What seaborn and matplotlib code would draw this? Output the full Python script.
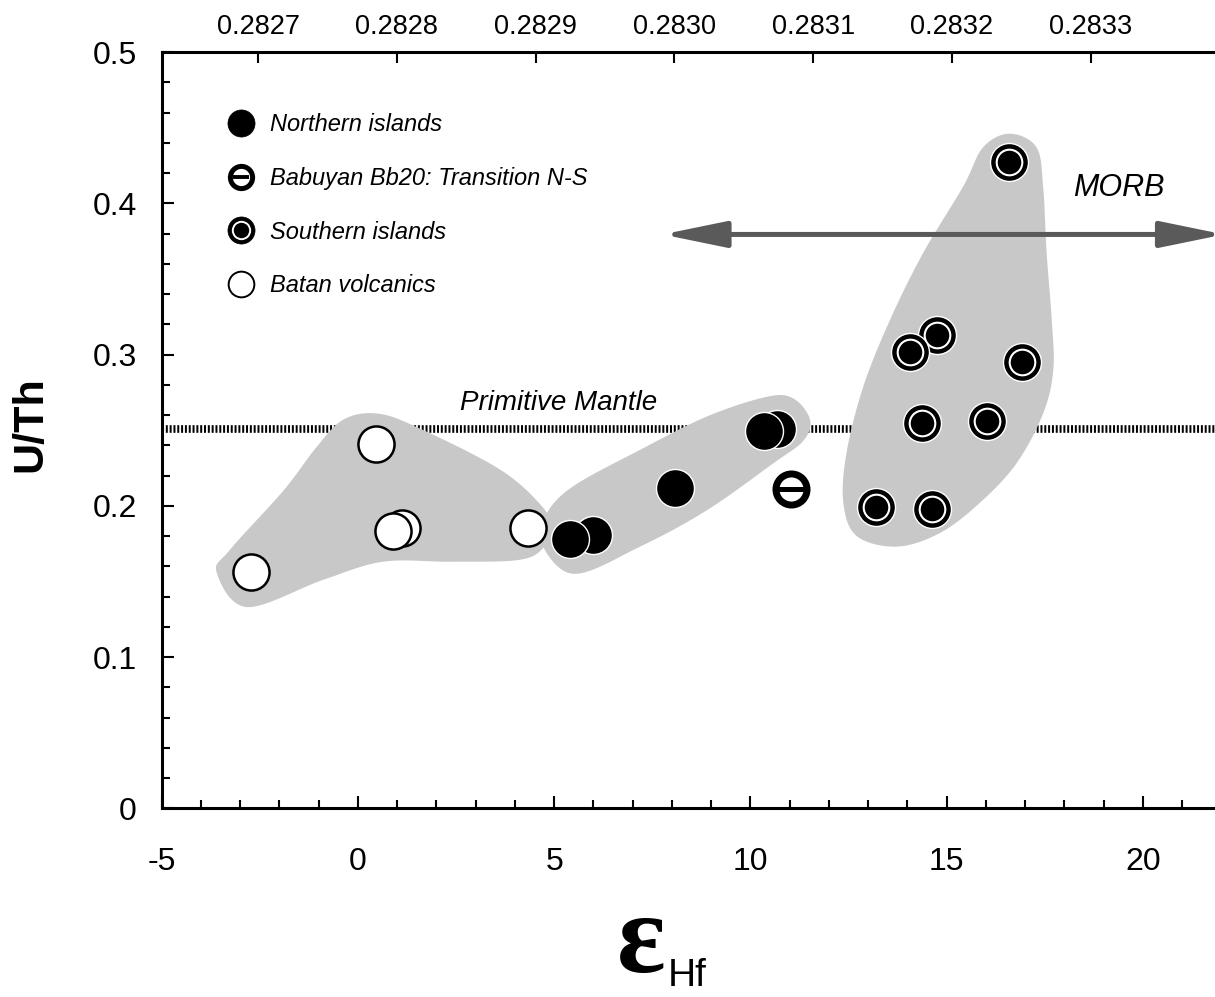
import numpy as np
import pandas as pd
import matplotlib.pyplot as plt
import seaborn as sns
from matplotlib.lines import Line2D
from matplotlib.patches import FancyArrowPatch
from matplotlib.ticker import MultipleLocator, FuncFormatter

sns.set_style('ticks')
plt.rcParams['font.family'] = ['Liberation Sans', 'DejaVu Sans']
plt.rcParams['axes.unicode_minus'] = False
for key in ['text.color', 'axes.labelcolor', 'xtick.color', 'ytick.color', 'axes.edgecolor']:
    plt.rcParams[key] = 'black'

# --- data (eHf, U/Th) ---
batan_ehf = [-2.72, 0.46, 1.13, 0.90, 4.34]
batan_uth = [0.156, 0.241, 0.185, 0.183, 0.185]

north_ehf = [5.99, 5.40, 8.08, 10.68, 10.35]
north_uth = [0.181, 0.178, 0.212, 0.251, 0.2496]

babuyan_ehf = [11.03]
babuyan_uth = [0.211]

south_ehf = [16.59, 14.76, 14.06, 16.91, 14.38, 16.03, 13.19, 14.63]
south_uth = [0.427, 0.313, 0.302, 0.295, 0.255, 0.256, 0.199, 0.198]

legend_labels = ['Northern islands', 'Babuyan Bb20: Transition N-S',
                 'Southern islands', 'Batan volcanics']

# top axis: 176Hf/177Hf
chur = 0.282772
ratio_ticks = [0.2827, 0.2828, 0.2829, 0.2830, 0.2831, 0.2832, 0.2833]

primitive_mantle = 0.251
morb_range = [7.76, 22.07]
morb_uth = 0.3794

# field outlines (eHf, U/Th)
field_batan_x = [-3.60, -2.83, -0.89, 0.64, 2.35, 4.04, 4.68, 4.89, 4.71, 3.62, 1.50, 0.48, -0.37, -1.05, -1.90, -3.26]
field_batan_y = [0.156, 0.133, 0.151, 0.163, 0.163, 0.164, 0.171, 0.186, 0.199, 0.224, 0.252, 0.261, 0.257, 0.239, 0.210, 0.171]
field_north_x = [4.64, 5.49, 7.19, 8.89, 10.58, 11.35, 11.52, 11.09, 10.41, 8.89, 7.19, 5.49, 4.81]
field_north_y = [0.177, 0.155, 0.173, 0.197, 0.228, 0.243, 0.257, 0.271, 0.272, 0.259, 0.237, 0.213, 0.195]
field_south_x = [16.61, 17.29, 17.46, 17.55, 17.68, 17.72, 17.46, 16.78, 15.85, 14.83, 13.73, 12.71, 12.37, 12.45, 12.88, 13.56, 14.40, 15.42, 15.93]
field_south_y = [0.446, 0.437, 0.411, 0.367, 0.323, 0.290, 0.261, 0.228, 0.202, 0.182, 0.173, 0.180, 0.202, 0.235, 0.279, 0.323, 0.367, 0.411, 0.437]


def smooth_closed(xs, ys, n=24):
    # periodic Catmull-Rom through the outline points
    pts = np.column_stack([xs, ys])
    m = len(pts)
    t = np.linspace(0, 1, n, endpoint=False)[:, None]
    out = []
    for i in range(m):
        p0, p1, p2, p3 = pts[i - 1], pts[i], pts[(i + 1) % m], pts[(i + 2) % m]
        out.append(0.5 * (2 * p1 + (-p0 + p2) * t + (2 * p0 - 5 * p1 + 4 * p2 - p3) * t ** 2
                          + (-p0 + 3 * p1 - 3 * p2 + p3) * t ** 3))
    out = np.vstack(out)
    return out[:, 0], out[:, 1]


fig = plt.figure(figsize=(12.15, 9.97), dpi=100)
ax = fig.add_axes([0.1331, 0.1893, 0.8669, 0.7585])

ax.axhline(primitive_mantle, color='black', lw=5.5, dashes=(0.26, 0.24), zorder=1)

for fx, fy in [(field_batan_x, field_batan_y), (field_north_x, field_north_y),
               (field_south_x, field_south_y)]:
    sx, sy = smooth_closed(fx, fy)
    ax.fill(sx, sy, color='#c8c8c8', lw=0, zorder=2)

sns.scatterplot(x=batan_ehf, y=batan_uth, s=676, color='white', edgecolor='black',
                linewidth=1.8, zorder=4, ax=ax, legend=False)
sns.scatterplot(x=north_ehf, y=north_uth, s=748, color='black', edgecolor='white',
                linewidth=1.0, zorder=4, ax=ax, legend=False)
sns.scatterplot(x=babuyan_ehf, y=babuyan_uth, s=500, color='white', edgecolor='black',
                linewidth=5, zorder=4, ax=ax, legend=False)
ax.plot(babuyan_ehf, babuyan_uth, ls='none', marker='_', ms=19, mew=3.6, color='black', zorder=4)
for x, y in zip(south_ehf, south_uth):
    sns.scatterplot(x=[x], y=[y], s=748, color='black', edgecolor='white',
                    linewidth=1.0, zorder=4, ax=ax, legend=False)
    sns.scatterplot(x=[x], y=[y], s=340, color='black', edgecolor='white',
                    linewidth=1.5, zorder=4, ax=ax, legend=False)

arrow = FancyArrowPatch((morb_range[0], morb_uth), (morb_range[1], morb_uth),
                        arrowstyle='<|-|>,head_length=39,head_width=8', mutation_scale=1,
                        color='#5a5a5a', lw=3.6, shrinkA=0, shrinkB=0, zorder=5, clip_on=False)
ax.add_patch(arrow)

ax.text(5.10, 0.263, 'Primitive Mantle', style='italic', fontsize=20, ha='center', va='baseline')
ax.text(19.39, 0.405, 'MORB', style='italic', fontsize=22, ha='center', va='baseline')

# legend
h_n = Line2D([], [], ls='none', marker='o', ms=19.5, mfc='black', mec='black', mew=0.5)
h_b = (Line2D([], [], ls='none', marker='o', ms=16, mfc='white', mec='black', mew=3.6),
       Line2D([], [], ls='none', marker='_', ms=12, mec='black', mew=2.8))
h_s = (Line2D([], [], ls='none', marker='o', ms=19.5, mfc='black', mec='black', mew=0.5),
       Line2D([], [], ls='none', marker='o', ms=12.5, mfc='black', mec='white', mew=1.4))
h_w = Line2D([], [], ls='none', marker='o', ms=18.5, mfc='white', mec='black', mew=1.4)
ax.legend([h_n, h_b, h_s, h_w], legend_labels, loc='upper left', bbox_to_anchor=(0.0617, 0.919),
          frameon=False, prop={'style': 'italic', 'size': 17}, borderpad=0, borderaxespad=0,
          handlelength=1.2, handletextpad=0.63, labelspacing=1.3)

ax.set_xlim(-5, 21.84)
ax.set_ylim(0, 0.5)
ax.xaxis.set_major_locator(MultipleLocator(5))
ax.xaxis.set_minor_locator(MultipleLocator(1))
ax.yaxis.set_major_locator(MultipleLocator(0.1))
ax.yaxis.set_minor_locator(MultipleLocator(0.02))
ax.yaxis.set_major_formatter(FuncFormatter(lambda v, p: '0' if abs(v) < 1e-9 else f'{v:.1f}'))
ax.tick_params(which='major', direction='in', length=8.5, width=1.5, labelsize=23,
               top=False, right=False)
ax.tick_params(which='minor', direction='in', length=6, width=1.5, top=False, right=False)
ax.tick_params(axis='x', which='major', pad=28)
ax.tick_params(axis='y', which='major', pad=18)
ax.spines[['top', 'right']].set_visible(False)
for sp in ['left', 'bottom']:
    ax.spines[sp].set_linewidth(2.2)
ax.set_xlabel('')
ax.set_ylabel('')

sec = ax.secondary_xaxis('top', functions=(lambda e: chur * (1 + np.asarray(e) / 1e4),
                                           lambda r: (np.asarray(r) / chur - 1) * 1e4))
sec.set_xticks(ratio_ticks)
sec.set_xticklabels([f'{r:.4f}' for r in ratio_ticks])
sec.tick_params(direction='in', length=8, width=1.5, labelsize=19.5, pad=9)
sec.spines['top'].set_linewidth(2.2)

fig.text(30 / 1215, 1 - 424 / 997, 'U/Th', rotation=90, ha='center', va='center',
         fontsize=31, fontweight='bold')
fig.text(641 / 1215, 1 - 972 / 997, 'ε', ha='center', va='baseline', fontsize=82,
         family=['Liberation Serif', 'DejaVu Serif'], fontweight='bold')
fig.text(668 / 1215, 1 - 986 / 997, 'Hf', ha='left', va='baseline', fontsize=28)

fig.savefig('out.png', dpi=100)
